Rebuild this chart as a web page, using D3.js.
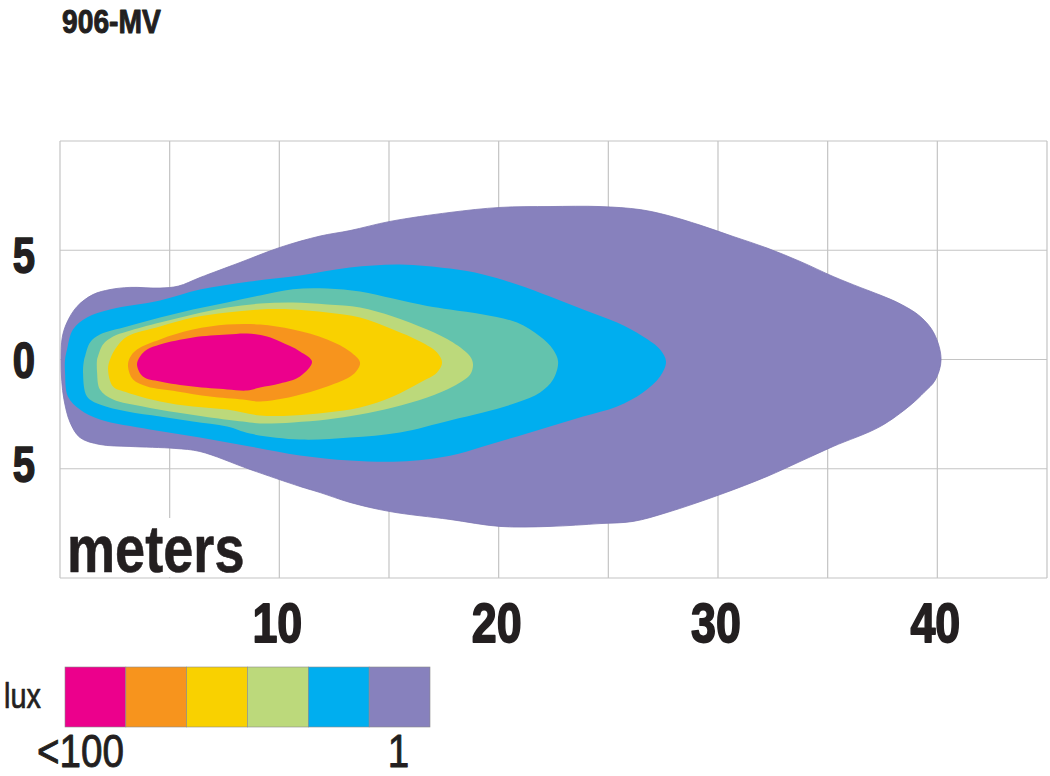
<!DOCTYPE html>
<html>
<head>
<meta charset="utf-8">
<script src="https://cdn.jsdelivr.net/npm/d3@7"></script>
<style>
  html, body { margin: 0; padding: 0; background: #ffffff; }
  svg { display: block; }
  text { font-family: "Liberation Sans", Arial, Helvetica, sans-serif; }
</style>
</head>
<body>
<svg id="chart" width="1050" height="776"></svg>
<script>
// ---------- DATA (meters) ----------
const title = "906-MV";
const xTicks = [10, 20, 30, 40];
const yTicks = [5, 0, -5];
const xGrid = [0, 5, 10, 15, 20, 25, 30, 35, 40, 45];
const yGrid = [10, 5, 0, -5, -10];
const legendLabels = ["<100", "1"];

// iso-lux outlines, [distance, lateral] in meters
const zone1lux = [
  [0.05, 0], [0.1, 1.0], [0.32, 1.7], [0.78, 2.43], [1.5, 2.97], [2.28, 3.2], [3.19, 3.3],
  [4.56, 3.27], [5.4, 3.36], [6.38, 3.75], [8.21, 4.44], [10.03, 5.13], [11.86, 5.65],
  [13.22, 5.9], [15.05, 6.32], [17.78, 6.73], [20.06, 6.96], [22.34, 7.0], [24.62, 7.0],
  [26.45, 6.86], [27.68, 6.6], [29.18, 6.15], [30.69, 5.63], [32.24, 5.1], [33.74, 4.49],
  [35.25, 3.8], [36.48, 3.3], [37.39, 2.95], [38.3, 2.55], [39.22, 1.97], [39.85, 1.2],
  [40.17, 0], [39.9, -0.95], [39.4, -1.5], [38.76, -2.1], [37.39, -3.07], [35.25, -3.98],
  [33.74, -4.67], [32.24, -5.35], [30.1, -6.18], [27.68, -7.0], [26.13, -7.41], [24.62, -7.51],
  [22.34, -7.64], [20.06, -7.64], [17.78, -7.32], [15.05, -6.96], [13.22, -6.54], [11.86, -6.09],
  [10.94, -5.81], [8.66, -5.03], [6.38, -4.21], [5.24, -4.07], [3.19, -3.98], [1.82, -3.89],
  [0.91, -3.57], [0.46, -2.88], [0.18, -1.83], [0.08, -1.0]
];
const zone2lux = [
  [0.23, 0], [0.32, 0.46], [0.59, 1.37], [1.23, 1.92], [2.28, 2.29], [4.56, 2.7], [6.38, 3.2],
  [8.66, 3.57], [10.94, 3.84], [13.22, 4.21], [15.5, 4.35], [17.78, 4.16], [19.29, 3.89],
  [20.84, 3.43], [22.34, 2.88], [23.85, 2.29], [25.4, 1.69], [26.58, 1.05], [27.36, 0.46],
  [27.63, -0.1], [27.36, -0.78], [26.58, -1.51], [25.4, -2.15], [23.85, -2.61], [22.34, -3.07],
  [20.84, -3.52], [19.29, -3.98], [17.78, -4.4], [15.5, -4.67], [13.22, -4.62], [10.94, -4.39],
  [8.66, -3.98], [6.38, -3.57], [4.1, -3.2], [1.82, -2.75], [0.91, -2.29], [0.36, -1.69], [0.23, -0.59]
];
const zone5lux = [
  [1.1, 0], [1.14, 0.14], [1.37, 0.78], [1.82, 1.14], [3.06, 1.51], [4.56, 1.92], [6.06, 2.29],
  [7.62, 2.61], [9.12, 2.93], [10.62, 3.22], [12.18, 3.25], [13.68, 3.11], [15.18, 2.79],
  [16.74, 2.45], [17.78, 2.29], [19.29, 2.06], [20.84, 1.69], [21.89, 1.05], [22.48, 0.46],
  [22.71, -0.1], [22.48, -0.92], [21.89, -1.51], [20.84, -1.97], [19.29, -2.43], [17.78, -2.79],
  [15.5, -3.34], [13.22, -3.57], [10.94, -3.66], [8.66, -3.39], [7.62, -3.07], [6.06, -2.84],
  [4.56, -2.61], [3.06, -2.38], [1.82, -2.06], [1.23, -1.69], [1.05, -0.59]
];
const zone10lux = [
  [1.69, 0], [1.73, 0.14], [1.96, 0.69], [2.42, 1.05], [3.06, 1.28], [4.56, 1.69], [6.06, 2.06],
  [7.62, 2.38], [9.12, 2.56], [10.62, 2.61], [12.18, 2.52], [13.68, 2.38], [15.18, 1.97],
  [16.74, 1.37], [17.92, 0.78], [18.7, 0.14], [18.83, -0.23], [18.7, -0.69], [17.92, -1.24],
  [16.74, -1.74], [15.18, -2.2], [13.68, -2.52], [12.18, -2.75], [10.62, -2.88], [9.12, -2.93],
  [8.34, -2.84], [6.84, -2.65], [5.34, -2.43], [3.78, -2.15], [2.42, -1.83], [1.82, -1.37], [1.69, -0.59]
];
const zone25lux = [
  [2.28, 0], [2.6, 0.59], [3.06, 1.05], [4.56, 1.51], [6.06, 1.92], [7.62, 2.15], [9.12, 2.29],
  [10.62, 2.29], [12.18, 2.15], [13.68, 1.92], [15.18, 1.37], [16.42, 0.82], [17.19, 0.32],
  [17.42, -0.14], [17.19, -0.59], [16.42, -1.05], [15.18, -1.69], [13.68, -2.2], [12.18, -2.43],
  [10.62, -2.56], [9.12, -2.56], [7.62, -2.29], [6.06, -2.15], [4.56, -1.92], [3.06, -1.51],
  [2.42, -1.24], [2.19, -0.46]
];
const zone50lux = [
  [3.19, 0.09], [3.51, 0.46], [4.56, 0.92], [6.06, 1.37], [7.62, 1.6], [9.12, 1.6], [10.62, 1.37],
  [12.18, 0.92], [13.22, 0.37], [13.68, -0.14], [13.36, -0.69], [12.18, -1.24], [10.62, -1.69],
  [9.12, -1.92], [8.34, -1.83], [6.84, -1.69], [5.34, -1.46], [3.97, -1.24], [3.33, -0.92], [3.1, -0.32]
];
const zone100lux = [
  [3.65, 0.14], [3.97, 0.46], [4.56, 0.69], [6.06, 1.01], [7.62, 1.14], [8.53, 1.19], [9.44, 1.05],
  [10.03, 0.82], [10.94, 0.37], [11.49, -0.1], [10.94, -0.78], [10.03, -1.1], [9.12, -1.28],
  [8.53, -1.42], [7.62, -1.37], [6.06, -1.24], [4.56, -1.01], [3.78, -0.78], [3.51, -0.23]
];

// ---------- STYLE ----------
const zoneColors = ["#8781bd", "#00aeef", "#63c3ad", "#bcd97b", "#f9d100", "#f7941d", "#ec008c"];
const legendColors = ["#ec008c", "#f7941d", "#f9d100", "#bcd97b", "#00aeef", "#8781bd"];
const zones = [zone1lux, zone2lux, zone5lux, zone10lux, zone25lux, zone50lux, zone100lux];
const ink = "#231f20";

const svg = d3.select("#chart");
svg.append("rect").attr("width", 1050).attr("height", 776).attr("fill", "#fff");

const x = d3.scaleLinear().domain([0, 45]).range([60, 1047]);
const y = d3.scaleLinear().domain([-10, 10]).range([578, 141]);

// condensed text helper: regular face squeezed horizontally, optional extra weight
function ctext(g, tx, ty, str, size, weight, anchor, sx, extra) {
  return g.append("text")
    .attr("transform", `translate(${tx},${ty}) scale(${sx},1)`)
    .attr("font-size", size).attr("font-weight", weight)
    .attr("text-anchor", anchor).attr("fill", ink)
    .attr("stroke", extra ? ink : "none").attr("stroke-width", extra || 0)
    .attr("stroke-linejoin", "round")
    .text(str);
}

// grid
const grid = svg.append("g").attr("stroke", "#c4c4c4").attr("stroke-width", 1.2).attr("fill", "none");
grid.selectAll("line.v").data(xGrid).join("line").attr("class", "v")
  .attr("x1", d => x(d)).attr("x2", d => x(d)).attr("y1", y(10)).attr("y2", y(-10));
grid.selectAll("line.h").data(yGrid).join("line").attr("class", "h")
  .attr("x1", x(0)).attr("x2", x(45)).attr("y1", d => y(d)).attr("y2", d => y(d));

// iso-lux zones
const line = d3.line().x(d => x(d[0])).y(d => y(d[1])).curve(d3.curveCatmullRomClosed.alpha(0.5));
svg.append("g").selectAll("path").data(zones).join("path")
  .attr("d", d => line(d))
  .attr("fill", (d, i) => zoneColors[i])
  .attr("stroke", (d, i) => i === 0 ? "#7d77b3" : "none")
  .attr("stroke-width", 0.8);

// "meters" label with white backing
svg.append("rect").attr("x", x(0) + 2).attr("y", 518)
  .attr("width", 190).attr("height", y(-10) - 519).attr("fill", "#fff");
ctext(svg, 67, 572, "meters", 66, "bold", "start", 0.82, 0.6);

// title
ctext(svg, 62, 33, title, 34, "bold", "start", 0.83, 1.0);

// y labels
yTicks.forEach(d => ctext(svg, 24, y(d) + 18 + d, Math.abs(d), 50, "bold", "middle", 0.8, 1.6));

// x labels
xTicks.forEach(d => ctext(svg, x(d) - 2, 642, d, 56, "bold", "middle", 0.8, 1.8));

// legend
const lx = d3.scaleBand().domain(d3.range(legendColors.length)).range([65, 430]);
svg.append("g").selectAll("rect").data(legendColors).join("rect")
  .attr("x", (d, i) => lx(i)).attr("y", 667).attr("width", lx.bandwidth()).attr("height", 60)
  .attr("fill", d => d).attr("stroke", "#8a8a8a").attr("stroke-width", 0.6);
ctext(svg, 4, 708, "lux", 36, "normal", "start", 0.8, 0.7);
ctext(svg, 37, 767, legendLabels[0], 46, "normal", "start", 0.84, 0.9);
ctext(svg, lx(legendColors.length - 1) + lx.bandwidth() / 2 - 1, 767, legendLabels[1], 46, "normal", "middle", 0.84, 0.9);
</script>
</body>
</html>
